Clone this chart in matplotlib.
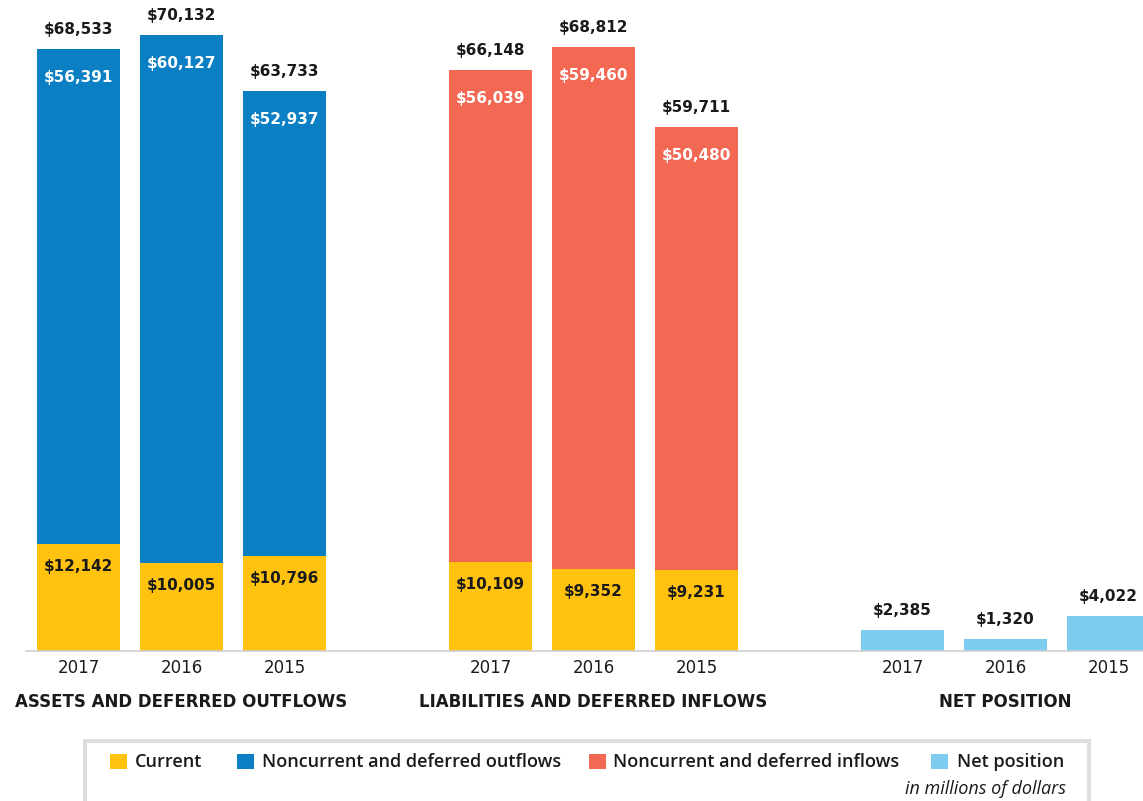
import matplotlib
matplotlib.use("Agg")
import matplotlib.pyplot as plt
from matplotlib.patches import Rectangle
from matplotlib.transforms import blended_transform_factory

plt.rcParams['font.family'] = ['DejaVu Sans']

years = ["2017", "2016", "2015"]
groups = ["ASSETS AND DEFERRED OUTFLOWS", "LIABILITIES AND DEFERRED INFLOWS", "NET POSITION"]

assets_current = [12142, 10005, 10796]
assets_noncurrent = [56391, 60127, 52937]
assets_total = [68533, 70132, 63733]

liab_current = [10109, 9352, 9231]
liab_noncurrent = [56039, 59460, 50480]
liab_total = [66148, 68812, 59711]

net_position = [2385, 1320, 4022]

legend_labels = ["Current", "Noncurrent and deferred outflows",
                 "Noncurrent and deferred inflows", "Net position"]

C_YEL = "#FFC20E"
C_BLUE = "#0A7FC4"
C_RED = "#F26853"
C_LBLUE = "#7DCCEF"
TXT = "#1a1a1a"

W, H = 1143, 801
fig = plt.figure(figsize=(W / 100, H / 100), dpi=100)
ax = fig.add_axes([26 / W, (H - 651) / H, (W - 26) / W, 651 / H])

pos_a = [0, 1, 2]
pos_l = [4, 5, 6]
pos_n = [8, 9, 10]
bw = 0.8

ax.bar(pos_a, assets_current, bw, color=C_YEL)
ax.bar(pos_a, assets_noncurrent, bw, bottom=assets_current, color=C_BLUE)
ax.bar(pos_l, liab_current, bw, color=C_YEL)
ax.bar(pos_l, liab_noncurrent, bw, bottom=liab_current, color=C_RED)
ax.bar(pos_n, net_position, bw, color=C_LBLUE)

ax.set_xlim(-0.51, 10.335)
ax.set_ylim(0, 74120)

def fmt(v):
    return "${:,}".format(v)

fs = 11
for pos, cur, nonc, tot in [(pos_a, assets_current, assets_noncurrent, assets_total),
                            (pos_l, liab_current, liab_noncurrent, liab_total)]:
    for x, c, n, t in zip(pos, cur, nonc, tot):
        ax.annotate(fmt(t), (x, c + n), xytext=(0, 14), textcoords='offset points',
                    ha='center', va='center', fontsize=fs, fontweight='bold', color=TXT)
        ax.annotate(fmt(n), (x, c + n), xytext=(0, -20.5), textcoords='offset points',
                    ha='center', va='center', fontsize=fs, fontweight='bold', color='white')
        ax.annotate(fmt(c), (x, c), xytext=(0, -16), textcoords='offset points',
                    ha='center', va='center', fontsize=fs, fontweight='bold', color=TXT)
for x, v in zip(pos_n, net_position):
    ax.annotate(fmt(v), (x, v), xytext=(0, 14), textcoords='offset points',
                ha='center', va='center', fontsize=fs, fontweight='bold', color=TXT)

for s in ['top', 'right', 'left']:
    ax.spines[s].set_visible(False)
ax.spines['bottom'].set_color('#cfcfcf')
ax.spines['bottom'].set_linewidth(1.2)
ax.set_yticks([])
ax.set_xticks(pos_a + pos_l + pos_n, labels=years * 3)
ax.tick_params(axis='x', length=0, pad=6, labelsize=12, labelcolor=TXT)

tr = blended_transform_factory(ax.transData, fig.transFigure)
for centre, g in zip([1, 5, 9], groups):
    ax.text(centre, 1 - 702 / H, g, transform=tr, ha='center', va='center',
            fontsize=12, fontweight='bold', color=TXT)

# legend box
fig.patches.append(Rectangle((85 / W, -0.01), (1089 - 85) / W, (H - 741) / H + 0.01,
                             transform=fig.transFigure, facecolor='white',
                             edgecolor='#dedede', linewidth=3))
leg_sq = [110, 237, 589, 931]
leg_tx = [135, 262, 613, 957]
leg_c = [C_YEL, C_BLUE, C_RED, C_LBLUE]
for sx, tx, lc, lt in zip(leg_sq, leg_tx, leg_c, legend_labels):
    fig.patches.append(Rectangle((sx / W, 1 - 769 / H), 17 / W, 15 / H,
                                 transform=fig.transFigure, facecolor=lc, edgecolor='none'))
    fig.text(tx / W, 1 - 762 / H, lt, ha='left', va='center', fontsize=13,
             fontweight='semibold', color=TXT, family=['Open Sans', 'DejaVu Sans'])
fig.text(1066 / W, 1 - 789 / H, "in millions of dollars", ha='right', va='center',
         fontsize=13, style='italic', color=TXT, family=['Open Sans', 'DejaVu Sans'])

fig.savefig("out.png", dpi=100)
